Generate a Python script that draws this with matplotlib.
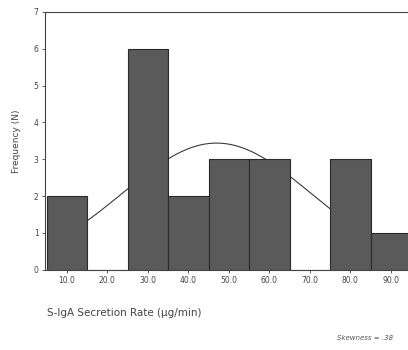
import numpy as np
import matplotlib.pyplot as plt

# ビンの中心値と度数
bin_centers = [10, 20, 30, 40, 50, 60, 70, 80, 90]
counts = [2, 0, 6, 2, 3, 3, 0, 3, 1]
x_ticks = [10, 20, 30, 40, 50, 60, 70, 80, 90]
x_tick_labels = ['10.0', '20.0', '30.0', '40.0', '50.0', '60.0', '70.0', '80.0', '90.0']
y_ticks = [0, 1, 2, 3, 4, 5, 6, 7]
bin_width = 10

fig = plt.figure(figsize=(4.08, 3.5), dpi=100)
ax = fig.add_axes([0.110, 0.229, 0.947, 0.737])

ax.bar(bin_centers, counts, width=bin_width, color='#5a5a5a',
       edgecolor='#2a2a2a', linewidth=0.8, zorder=2)

# 度数から正規曲線を当てはめる
vals = np.repeat(bin_centers, counts)
mu = vals.mean()
sd = vals.std(ddof=1)
xs = np.linspace(14, 96, 300)
ys = len(vals) * bin_width / (sd * np.sqrt(2 * np.pi)) * np.exp(-(xs - mu) ** 2 / (2 * sd ** 2))
ax.plot(xs, ys, color='#3a3a3a', lw=0.8, zorder=1)

ax.set_xlim(4.6, 100)
ax.set_ylim(0, 7)
ax.set_xticks(x_ticks)
ax.set_xticklabels(x_tick_labels)
ax.set_yticks(y_ticks)
ax.tick_params(labelsize=5.5, colors='#444444', length=2.5, width=0.6, pad=2)
for s in ['left', 'top', 'bottom']:
    ax.spines[s].set_color('#444444')
    ax.spines[s].set_linewidth(0.8)
ax.spines['right'].set_visible(False)

ax.set_ylabel('Frequency (N)', fontsize=6.5, color='#444444', labelpad=9)
fig.text(0.115, 0.105, 'S-IgA Secretion Rate (µg/min)', fontsize=7.5,
         color='#444444', ha='left', va='center')
fig.text(0.826, 0.035, 'Skewness = .38', fontsize=5, style='italic',
         color='#555555', ha='left', va='center')

fig.savefig('out.png', dpi=100)
